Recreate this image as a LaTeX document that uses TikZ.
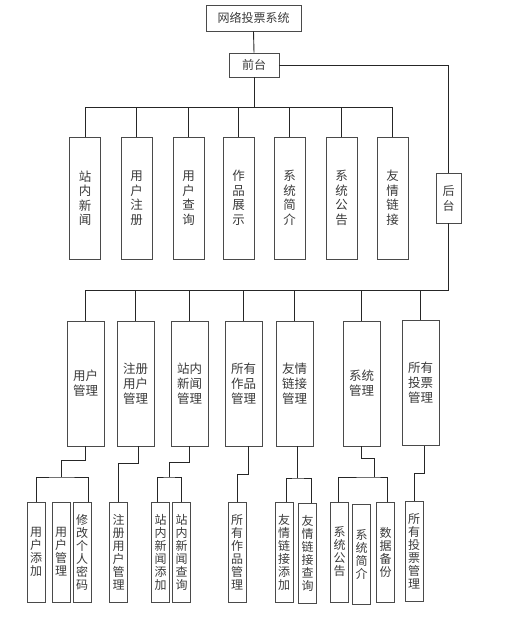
\documentclass[tikz,border=0pt]{standalone}
\usepackage{fontspec}
\newfontfamily\cjk{Noto Sans CJK SC}
\definecolor{BoxGray}{HTML}{4A4A4A}
\definecolor{TextGray}{HTML}{3A3A3A}
\usepackage{tikz}
\usetikzlibrary{positioning, calc}
\tikzset{
  % Box styles
  titlebox/.style={rectangle, draw=BoxGray, line width=0.9pt, minimum width=95pt, minimum height=26pt, inner sep=0pt, font=\cjk\fontsize{12}{14}\selectfont, text=TextGray},
  sidebox/.style={rectangle, draw=BoxGray, line width=0.9pt, inner sep=0pt, font=\cjk\fontsize{12}{15}\selectfont, text=TextGray, align=center},
  frontbox/.style={rectangle, draw=BoxGray, line width=0.9pt, minimum width=31pt, minimum height=122pt, inner sep=0pt, font=\cjk\fontsize{12.5}{14.5}\selectfont, text=TextGray, align=center},
  backbox/.style={rectangle, draw=BoxGray, line width=0.9pt, minimum width=37pt, minimum height=125pt, inner sep=0pt, font=\cjk\fontsize{12.5}{15}\selectfont, text=TextGray, align=center},
  leafbox/.style={rectangle, draw=BoxGray, line width=0.9pt, minimum width=18pt, minimum height=100pt, inner sep=0pt, font=\cjk\fontsize{12}{13}\selectfont, text=TextGray, align=center},
  % Line styles
  link/.style={line width=0.9pt, black!85}
}
\begin{document}
\begin{tikzpicture}[x=1pt, y=-1pt]
  \useasboundingbox (0,0) rectangle (505,626);

  % Top
  \node[titlebox] (sys) at (253.5,18) {网络投票系统};
  \node[sidebox, minimum width=50pt, minimum height=24pt] (front) at (254,65) {前台};
  \node[sidebox, minimum width=25pt, minimum height=50pt] (back) at (448.5,198) {后\\台};

  % Bus levels
  \coordinate (fbus) at (0,107);
  \coordinate (bbus) at (0,290);

  % Front row
  \node[frontbox] (f1) at (85,198) {站\\内\\新\\闻};
  \node[frontbox] (f2) at (136.5,198) {用\\户\\注\\册};
  \node[frontbox] (f3) at (188.5,198) {用\\户\\查\\询};
  \node[frontbox] (f4) at (238.5,198) {作\\品\\展\\示};
  \node[frontbox] (f5) at (289.5,198) {系\\统\\简\\介};
  \node[frontbox] (f6) at (341.5,198) {系\\统\\公\\告};
  \node[frontbox] (f7) at (392.5,198) {友\\情\\链\\接};

  % Back row
  \node[backbox] (b1) at (85.5,383.5) {用户\\管理};
  \node[backbox] (b2) at (135.5,383.5) {注册\\用户\\管理};
  \node[backbox] (b3) at (189.5,383.5) {站内\\新闻\\管理};
  \node[backbox] (b4) at (243.5,383.5) {所有\\作品\\管理};
  \node[backbox] (b5) at (294.5,383.5) {友情\\链接\\管理};
  \node[backbox] (b6) at (361.5,383.5) {系统\\管理};
  \node[backbox] (b7) at (420.5,383) {所有\\投票\\管理};

  % Leaves
  \node[leafbox] (l1) at (36,552) {用\\户\\添\\加};
  \node[leafbox] (l2) at (61,552) {用\\户\\管\\理};
  \node[leafbox] (l3) at (82,552) {修\\改\\个\\人\\密\\码};
  \node[leafbox] (l4) at (118.5,552) {注\\册\\用\\户\\管\\理};
  \node[leafbox] (l5) at (160.5,552) {站\\内\\新\\闻\\添\\加};
  \node[leafbox] (l6) at (181.5,552) {站\\内\\新\\闻\\查\\询};
  \node[leafbox] (l7) at (237,552) {所\\有\\作\\品\\管\\理};
  \node[leafbox] (l8) at (284,552) {友\\情\\链\\接\\添\\加};
  \node[leafbox] (l9) at (307.5,553) {友\\情\\链\\接\\查\\询};
  \node[leafbox] (l10) at (339.5,552) {系\\统\\公\\告};
  \node[leafbox] (l11) at (361.5,554) {系\\统\\简\\介};
  \node[leafbox] (l12) at (385.5,552) {数\\据\\备\\份};
  \node[leafbox] (l13) at (414,551) {所\\有\\投\\票\\管\\理};

  % Top links
  \draw[link] (sys.south) -- (front.north);
  \draw[link] (front.east) -| (back.north);
  \draw[link] (front.south) -- (front.south |- fbus);
  \draw[link] (f1.north |- fbus) -- (f7.north |- fbus);
  \draw[link] (f1.north) -- (f1.north |- fbus);
  \draw[link] (f2.north) -- (f2.north |- fbus);
  \draw[link] (f3.north) -- (f3.north |- fbus);
  \draw[link] (f4.north) -- (f4.north |- fbus);
  \draw[link] (f5.north) -- (f5.north |- fbus);
  \draw[link] (f6.north) -- (f6.north |- fbus);
  \draw[link] (f7.north) -- (f7.north |- fbus);

  % Back links
  \draw[link] (back.south) |- (b1.north |- bbus);
  \draw[link] (b1.north) -- (b1.north |- bbus);
  \draw[link] (b2.north) -- (b2.north |- bbus);
  \draw[link] (b3.north) -- (b3.north |- bbus);
  \draw[link] (b4.north) -- (b4.north |- bbus);
  \draw[link] (b5.north) -- (b5.north |- bbus);
  \draw[link] (b6.north) -- (b6.north |- bbus);
  \draw[link] (b7.north) -- (b7.north |- bbus);

  % Leaf links
  \coordinate (j1) at (61,477);
  \coordinate (j3) at (169,477);
  \coordinate (j5) at (297,478);
  \coordinate (j6) at (374,477);
  \draw[link] (b1.south) -- ++(0,14) -| (j1);
  \draw[link] (l1.north) |- (j1) -| ([xshift=-3pt]l3.north east);
  \draw[link] ([xshift=3pt]b2.south) -- ++(0,17) -| (l4.north);
  \draw[link] (b3.south) -- ++(0,16) -| (j3);
  \draw[link] ([xshift=-3pt]l5.north) |- (j3) -| (l6.north);
  \draw[link] ([xshift=5pt]b4.south) -- ++(0,28) -| (l7.north);
  \draw[link] ([xshift=2.5pt]b5.south) -- (j5);
  \draw[link] ([xshift=2pt]l8.north) |- (j5) -| ([xshift=3.5pt]l9.north);
  \draw[link] (b6.south) -- ++(0,12) -| (j6);
  \draw[link] ([xshift=-1.5pt]l10.north) |- (j6) -| ([xshift=1.5pt]l12.north);
  \draw[link] ([xshift=3.5pt]b7.south) -- ++(0,27) -| (l13.north);
\end{tikzpicture}
\end{document}
